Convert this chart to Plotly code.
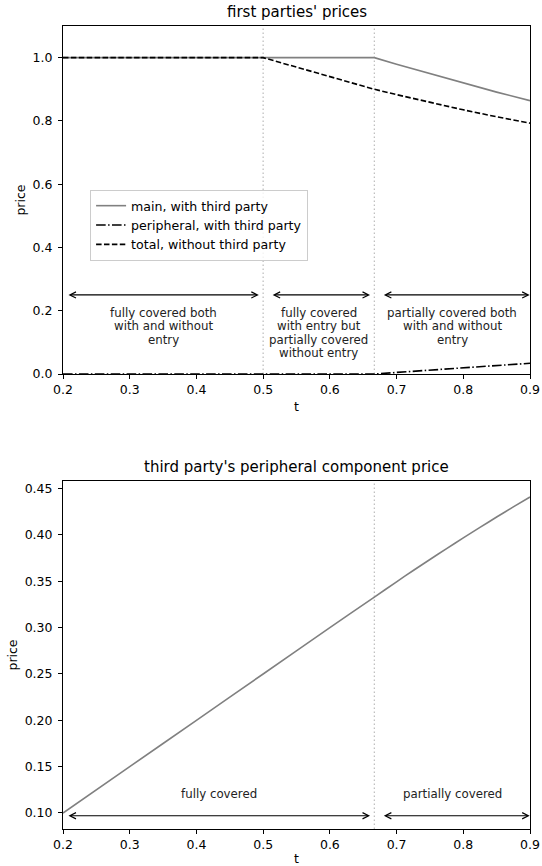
import plotly.graph_objects as go
from plotly.subplots import make_subplots

# ---- data ----
t_main = [0.2, 0.5, 0.6667, 0.7, 0.75, 0.8, 0.85, 0.9]
price_main = [1.0, 1.0, 1.0, 0.979, 0.949, 0.92, 0.891, 0.864]

t_periph = [0.2, 0.5, 0.6667, 0.7, 0.75, 0.8, 0.85, 0.9]
price_periph = [0.0, 0.0, 0.0, 0.005, 0.012, 0.019, 0.027, 0.034]

t_total = [0.2, 0.5, 0.55, 0.6, 0.6667, 0.7, 0.75, 0.8, 0.85, 0.9]
price_total = [1.0, 1.0, 0.97, 0.94, 0.90, 0.883, 0.858, 0.835, 0.813, 0.793]

t_third = [0.2, 0.3, 0.4, 0.5, 0.6, 0.6667, 0.7, 0.725, 0.75, 0.775,
           0.8, 0.825, 0.85, 0.875, 0.9]
price_third = [0.1, 0.15, 0.2, 0.25, 0.3, 0.333, 0.3495, 0.3617, 0.3736, 0.3853,
               0.3969, 0.4082, 0.4194, 0.4303, 0.441]

x_ticks = [0.2, 0.3, 0.4, 0.5, 0.6, 0.7, 0.8, 0.9]
top_yticks = [0.0, 0.2, 0.4, 0.6, 0.8, 1.0]
bottom_yticks = [0.10, 0.15, 0.20, 0.25, 0.30, 0.35, 0.40, 0.45]

top_bounds = [0.2, 0.5, 0.6667, 0.9]
top_regions = [
    ["fully covered both", "with and without", "entry"],
    ["fully covered", "with entry but", "partially covered", "without entry"],
    ["partially covered both", "with and without", "entry"],
]
bottom_bounds = [0.2, 0.6667, 0.9]
bottom_regions = [["fully covered"], ["partially covered"]]

FONT = "DejaVu Sans"
LINE_GAP = 13.3  # pixel distance between stacked label lines

fig = make_subplots(rows=2, cols=1, vertical_spacing=0.1332)

fig.add_trace(go.Scatter(x=t_main, y=price_main, mode="lines",
                         name="main, with third party",
                         line=dict(color="#808080", width=1.6)), row=1, col=1)
fig.add_trace(go.Scatter(x=t_periph, y=price_periph, mode="lines",
                         name="peripheral, with third party",
                         line=dict(color="black", width=1.6,
                                   dash="9.6px,2.4px,1.5px,2.4px")), row=1, col=1)
fig.add_trace(go.Scatter(x=t_total, y=price_total, mode="lines",
                         name="total, without third party",
                         line=dict(color="black", width=1.6, dash="5.5px,2.4px")),
              row=1, col=1)
fig.add_trace(go.Scatter(x=t_third, y=price_third, mode="lines",
                         showlegend=False,
                         line=dict(color="#808080", width=1.6, shape="spline",
                                   smoothing=0.6)), row=2, col=1)

# regime boundaries
for xv in top_bounds[1:-1]:
    fig.add_vline(x=xv, line=dict(color="#c0c0c0", width=1.3, dash="1.5px,2.5px"),
                  row=1, col=1, layer="below")
for xv in bottom_bounds[1:-1]:
    fig.add_vline(x=xv, line=dict(color="#c0c0c0", width=1.3, dash="1.5px,2.5px"),
                  row=2, col=1, layer="below")


def region_arrows(bounds, labels, y_arrow, y_text, xref, yref):
    for i, lines in enumerate(labels):
        a, b = bounds[i], bounds[i + 1]
        pad = 0.006
        fig.add_annotation(x=b - pad * (i < len(labels) - 1) - 0.0005, y=y_arrow,
                           ax=a + pad * (i > 0) + 0.006, ay=y_arrow,
                           xref=xref, yref=yref, axref=xref, ayref=yref,
                           text="", showarrow=True, arrowhead=5, startarrowhead=5,
                           arrowside="end+start", arrowsize=1.1, startarrowsize=1.1,
                           arrowwidth=1.1, arrowcolor="black")
        for k, line in enumerate(lines):
            fig.add_annotation(x=(a + b) / 2, y=y_text, xref=xref, yref=yref,
                               text=line, showarrow=False, yanchor="middle",
                               yshift=-LINE_GAP * k,
                               font=dict(family=FONT, size=11.8, color="#222"))


region_arrows(top_bounds, top_regions, 0.25, 0.193, "x", "y")
region_arrows(bottom_bounds, bottom_regions, 0.097, 0.1205, "x2", "y2")

axis_common = dict(showline=True, linecolor="black", linewidth=1, mirror=True,
                   ticks="outside", ticklen=4, tickcolor="black",
                   showgrid=False, zeroline=False, automargin=False,
                   tickfont=dict(family=FONT, size=12.5, color="black"))

for r in (1, 2):
    fig.update_xaxes(range=[0.2, 0.9], tickvals=x_ticks, tickformat=".1f",
                     title=dict(text="t", standoff=6,
                                font=dict(family=FONT, size=12.5, color="black")),
                     row=r, col=1, **axis_common)

fig.update_yaxes(range=[0, 1.1], tickvals=top_yticks, tickformat=".1f",
                 ticklabelstandoff=3,
                 title=dict(text="price", standoff=4,
                            font=dict(family=FONT, size=12.5, color="black")),
                 row=1, col=1, **axis_common)
fig.update_yaxes(range=[0.0827, 0.4583], tickvals=bottom_yticks, tickformat=".2f",
                 ticklabelstandoff=3,
                 title=dict(text="price", standoff=4,
                            font=dict(family=FONT, size=12.5, color="black")),
                 row=2, col=1, **axis_common)

fig.update_layout(
    width=542, height=866,
    margin=dict(l=63, r=12, t=26, b=37),
    paper_bgcolor="white", plot_bgcolor="white",
    font=dict(family=FONT, size=12, color="black"),
    legend=dict(x=0.058, y=0.7958, xanchor="left", yanchor="top",
                bgcolor="rgba(255,255,255,0.8)", bordercolor="#cccccc",
                borderwidth=1, font=dict(family=FONT, size=12.6),
                tracegroupgap=0, itemwidth=30),
)

fig.update_xaxes(domain=[0, 1])
fig.update_yaxes(domain=[0.5666, 1.0], row=1, col=1)
fig.update_yaxes(domain=[0.0, 0.4334], row=2, col=1)

fig.add_annotation(text="first parties' prices", x=0.5, y=1.0, xref="paper", yref="paper",
                   yanchor="bottom", yshift=3, showarrow=False,
                   font=dict(family=FONT, size=15, color="black"))
fig.add_annotation(text="third party's peripheral component price", x=0.5, y=0.4334,
                   xref="paper", yref="paper", yanchor="bottom", yshift=3,
                   showarrow=False, font=dict(family=FONT, size=15, color="black"))

# the page body keeps no default margin so the figure fills the window exactly
fig.write_html("out.html", post_script="document.body.style.margin='0';")
